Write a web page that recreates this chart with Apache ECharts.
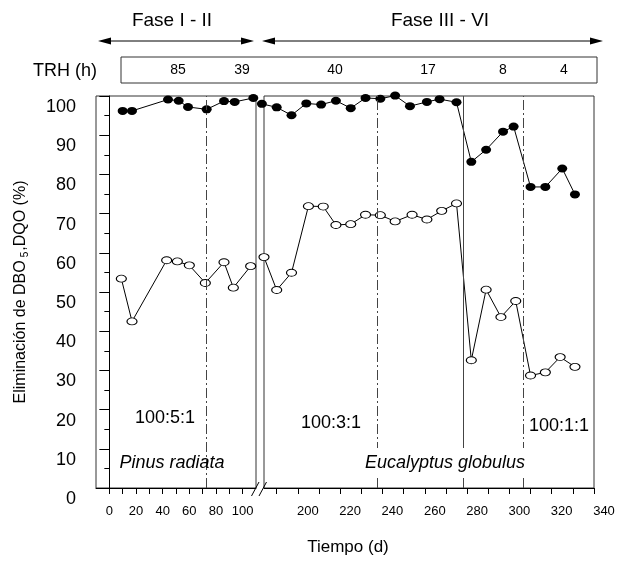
<!DOCTYPE html>
<html>
<head>
<meta charset="utf-8">
<script src="https://cdn.jsdelivr.net/npm/echarts@6/dist/echarts.min.js"></script>
<style>
  html, body { margin: 0; padding: 0; background: #fff; }
  #chart { width: 620px; height: 563px; }
</style>
</head>
<body>
<div id="chart"></div>
<script>
// Pinus radiata (antes del corte del eje)
const diasPinusDBO = [10, 17, 44, 52, 59, 73, 86, 94, 108]
const dboPinus = [96.2, 96.2, 99.1, 98.8, 97.2, 96.6, 98.7, 98.5, 99.5]
const diasPinusDQO = [9, 17, 43, 51, 60, 72, 86, 93, 106]
const dqoPinus = [53.4, 42.5, 58.1, 57.8, 56.8, 52.3, 57.6, 51.1, 56.6]

// Eucalyptus globulus (después del corte)
const diasEucaDBO = [183, 190, 197, 204, 211, 218, 225, 232, 239, 246, 253, 261, 267, 275, 282, 289, 297, 302, 310, 317, 325, 331]
const dboEuca = [98.0, 97.1, 95.1, 98.1, 97.8, 98.8, 96.9, 99.5, 99.3, 100.1, 97.4, 98.5, 99.2, 98.4, 83.2, 86.3, 90.9, 92.2, 76.8, 76.8, 81.5, 74.9]
const diasEucaDQO = [184, 190, 197, 205, 212, 218, 225, 232, 239, 246, 254, 261, 268, 275, 282, 289, 296, 303, 310, 317, 324, 331]
const dqoEuca = [58.9, 50.5, 54.9, 71.9, 71.8, 67.1, 67.3, 69.7, 69.6, 68.0, 69.7, 68.5, 70.7, 72.6, 32.6, 50.6, 43.6, 47.7, 28.7, 29.5, 33.4, 30.9]

// cambios de fase / relación DBO:N:P (días)
const cortePinus = [73]
const cortesEucaDash = [237.4, 306.5]
const corteEucaSolid = [278.1]

// marcas de los ejes
const ticksPinus = [0, 10, 20, 30, 40, 50, 60, 70, 80, 90, 100]
const labelsPinus = [0, 20, 40, 60, 80, 100]
const ticksEuca = [190, 200, 210, 220, 230, 240, 250, 260, 270, 280, 290, 300, 310, 320, 330, 340]
const labelsEuca = [200, 220, 240, 260, 280, 300, 320, 340]

// TRH (h) por periodo
const trh = ['85', '39', '40', '17', '8', '4']

const zip = (xs, ys) => xs.map((x, i) => [x, ys[i]])

const chart = echarts.init(document.getElementById('chart'))

const FONT = 'Liberation Sans, Arial, sans-serif'
const dashDot = [10, 3, 2, 3]

const xAxisBase = {
  type: 'value',
  axisLine: { onZero: false, lineStyle: { color: '#000', width: 1 } },
  axisTick: { length: 6, lineStyle: { color: '#000' } },
  axisLabel: { fontSize: 13, margin: 17, color: '#000', fontFamily: FONT },
  splitLine: { show: false }
}

const filled = {
  type: 'line',
  symbol: 'circle',
  symbolSize: [10, 8],
  itemStyle: { color: '#000' },
  lineStyle: { color: '#000', width: 1 },
  clip: false
}

const hollow = {
  type: 'line',
  symbol: 'circle',
  symbolSize: [10, 7],
  itemStyle: { color: '#fff', borderColor: '#000', borderWidth: 1 },
  lineStyle: { color: '#000', width: 1 },
  clip: false,
  z: 3
}

const vline = (x, type) => ({ xAxis: x, lineStyle: { color: '#444', width: 1, type: type } })

const arrow = (x1, x2, y) => [
  { type: 'line', shape: { x1: x1 + 6, y1: y, x2: x2 - 6, y2: y }, style: { stroke: '#000', lineWidth: 1 } },
  { type: 'polygon', shape: { points: [[x1, y], [x1 + 13, y - 3.5], [x1 + 13, y + 3.5]] }, style: { fill: '#000' } },
  { type: 'polygon', shape: { points: [[x2, y], [x2 - 13, y - 3.5], [x2 - 13, y + 3.5]] }, style: { fill: '#000' } }
]

const txt = (text, x, y, size, extra) => ({
  type: 'text', x: x, y: y, z: 100,
  style: Object.assign({ text: text, fill: '#000', font: size + 'px ' + FONT, textAlign: 'center', textVerticalAlign: 'middle' }, extra || {})
})

const trhX = [178, 242, 335, 428, 503, 564]

const option = {
  animation: false,
  backgroundColor: '#fff',
  textStyle: { fontFamily: FONT },
  grid: [
    { left: 96, top: 96, width: 160, bottom: 75, show: true, borderColor: '#333', borderWidth: 1 },
    { left: 264, top: 96, right: 26, bottom: 75, show: true, borderColor: '#333', borderWidth: 1 }
  ],
  xAxis: [
    Object.assign({}, xAxisBase, {
      gridIndex: 0, min: -10, max: 110,
      axisTick: Object.assign({}, xAxisBase.axisTick, { customValues: ticksPinus }),
      axisLabel: Object.assign({}, xAxisBase.axisLabel, { customValues: labelsPinus })
    }),
    Object.assign({}, xAxisBase, {
      gridIndex: 1, min: 184, max: 340,
      axisTick: Object.assign({}, xAxisBase.axisTick, { customValues: ticksEuca }),
      axisLabel: Object.assign({}, xAxisBase.axisLabel, { customValues: labelsEuca, padding: [0, 0, 0, 20] })
    })
  ],
  yAxis: [
    {
      type: 'value', gridIndex: 0, min: 0, max: 100, interval: 10,
      name: 'Eliminación de DBO{s|5},DQO (%)',
      nameLocation: 'middle',
      nameGap: 66,
      nameTextStyle: {
        fontSize: 16, color: '#000', fontFamily: FONT,
        rich: { s: { fontSize: 10, fontFamily: FONT, color: '#000', verticalAlign: 'bottom', padding: [8, 1, 0, 3] } }
      },
      axisLine: { show: true, lineStyle: { color: '#000', width: 1 } },
      axisTick: { show: true, length: 10, lineStyle: { color: '#000' } },
      minorTick: { show: true, splitNumber: 2, length: 5, lineStyle: { color: '#000' } },
      axisLabel: { fontSize: 18, color: '#000', margin: 20, verticalAlign: 'top', lineHeight: 22, fontFamily: FONT },
      splitLine: { show: false }
    },
    { type: 'value', gridIndex: 1, min: 0, max: 100, show: false }
  ],
  series: [
    Object.assign({}, filled, {
      name: 'DBO5', xAxisIndex: 0, yAxisIndex: 0, data: zip(diasPinusDBO, dboPinus),
      markLine: {
        silent: true, symbol: ['none', 'none'], label: { show: false },
        data: cortePinus.map(d => vline(d, dashDot))
      }
    }),
    Object.assign({}, hollow, { name: 'DQO', xAxisIndex: 0, yAxisIndex: 0, data: zip(diasPinusDQO, dqoPinus) }),
    Object.assign({}, filled, {
      name: 'DBO5', xAxisIndex: 1, yAxisIndex: 1, data: zip(diasEucaDBO, dboEuca),
      markLine: {
        silent: true, symbol: ['none', 'none'], label: { show: false },
        data: cortesEucaDash.map(d => vline(d, dashDot)).concat(corteEucaSolid.map(d => vline(d, 'solid')))
      }
    }),
    Object.assign({}, hollow, { name: 'DQO', xAxisIndex: 1, yAxisIndex: 1, data: zip(diasEucaDQO, dqoEuca) })
  ],
  graphic: [
    // fases
    txt('Fase I - II', 172, 21, 19),
    txt('Fase III - VI', 440, 21, 19),
    ...arrow(98, 254, 41),
    ...arrow(262, 603, 41),
    // TRH
    txt('TRH (h)', 65, 71, 18),
    { type: 'rect', shape: { x: 121, y: 57, width: 476, height: 26 }, style: { fill: 'none', stroke: '#333', lineWidth: 1 } },
    ...trh.map((t, i) => txt(t, trhX[i], 70, 14)),
    // anotaciones dentro del gráfico
    txt('100:5:1', 165, 418, 18),
    txt('Pinus radiata', 172, 463, 18, { font: 'italic 18px ' + FONT }),
    txt('100:3:1', 331, 423, 18),
    txt('Eucalyptus globulus', 445, 463, 18, { font: 'italic 18px ' + FONT, backgroundColor: '#fff', padding: [6, 2] }),
    txt('100:1:1', 559, 426, 18),
    // corte del eje
    { type: 'line', z: 100, shape: { x1: 251.5, y1: 496, x2: 259, y2: 482 }, style: { stroke: '#000', lineWidth: 1 } },
    { type: 'line', z: 100, shape: { x1: 259, y1: 496, x2: 266.5, y2: 482 }, style: { stroke: '#000', lineWidth: 1 } },
    // título eje x
    txt('Tiempo (d)', 348, 547, 17)
  ]
}

chart.setOption(option)
</script>
</body>
</html>
